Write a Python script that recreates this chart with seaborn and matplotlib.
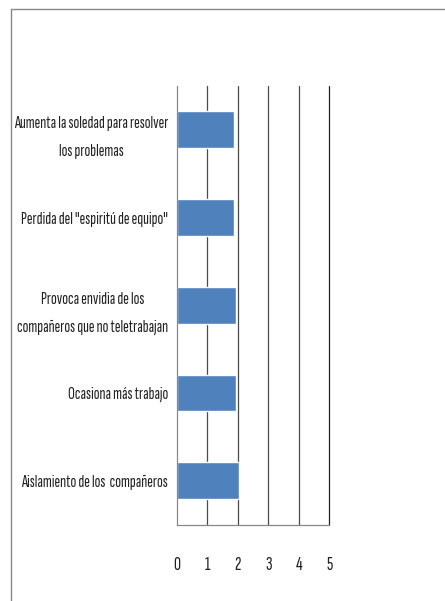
import matplotlib
matplotlib.use("Agg")
import matplotlib.pyplot as plt
from matplotlib.lines import Line2D
import seaborn as sns
import pandas as pd

categories = [
    "Aumenta la soledad para resolver\nlos problemas",
    'Perdida del "espiritú de equipo"',
    "Provoca envidia de los\ncompañeros que no teletrabajan",
    "Ocasiona más trabajo",
    "Aislamiento de los  compañeros",
]
values = [1.88, 1.88, 1.94, 1.94, 2.03]
x_ticks = [0, 1, 2, 3, 4, 5]

sns.set_style("white")
plt.rcParams["font.family"] = ["Sofia Sans Extra Condensed", "DejaVu Sans"]

df = pd.DataFrame({"cat": categories, "val": values})

fig = plt.figure(figsize=(4.45, 6.01), dpi=100)
ax = fig.add_axes([176.5 / 445, 1 - 524.5 / 601, (329.3 - 176.5) / 445, (524.5 - 86) / 601])

sns.barplot(data=df, x="val", y="cat", color="#4F81BD", saturation=1, width=0.42, ax=ax)

ax.set_xlim(0, 5)
ax.set_ylim(4.5, -0.5)
ax.set_xticks(x_ticks)
ax.set_xticklabels([str(t) for t in x_ticks], fontsize=14, color="#222222")
ax.set_xlabel("")
ax.set_ylabel("")
for t in x_ticks[1:]:
    ax.axvline(t, color="#4a4a4a" if t < 5 else "#222222", lw=0.9, zorder=0, clip_on=False)

ax.set_yticks(range(len(categories)))
ax.set_yticklabels(categories, fontsize=12.5, color="#222222", multialignment="center", linespacing=2.05)
ax.tick_params(axis="y", length=0, pad=6)
ax.set_yticks([i - 0.5 for i in range(len(categories) + 1)], minor=True)
ax.tick_params(axis="y", which="minor", length=3, color="#888888", width=0.9)
ax.tick_params(axis="x", length=4, color="#888888", width=0.9, pad=19, direction="out")

for s in ["top", "right"]:
    ax.spines[s].set_visible(False)
for s in ["left", "bottom"]:
    ax.spines[s].set_color("#888888")
    ax.spines[s].set_linewidth(0.9)

# outer chart border (only top/left visible in the crop)
fig.add_artist(Line2D([11 / 445, 1.0], [1 - 9 / 601, 1 - 9 / 601], color="#888888", lw=1, transform=fig.transFigure))
fig.add_artist(Line2D([11 / 445, 11 / 445], [0, 1 - 9 / 601], color="#888888", lw=1, transform=fig.transFigure))

fig.savefig("out.png", dpi=100)
